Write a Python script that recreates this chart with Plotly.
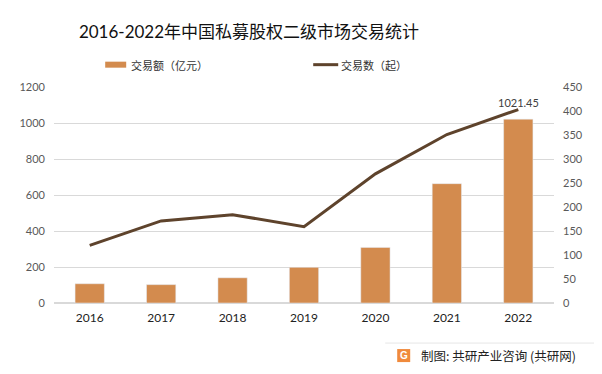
import plotly.graph_objects as go

years = ["2016", "2017", "2018", "2019", "2020", "2021", "2022"]
amount = [107, 102, 140, 198, 309, 663, 1021.45]   # 交易额（亿元）
count = [120, 171, 184, 159, 269, 351, 403]         # 交易数（起）
left_ticks = [0, 200, 400, 600, 800, 1000, 1200]
right_ticks = [0, 50, 100, 150, 200, 250, 300, 350, 400, 450]

BAR = "#D38B4E"
LINE = "#5E432C"
FONT = "Lato, 'Noto Sans CJK SC', sans-serif"
CJK = "'Noto Sans CJK SC', sans-serif"

xpos = list(range(len(years)))

# page body has an 8px default margin; figure is sized so it fits the 602x374 window
W, H = 594, 366
PL, PR, PT, PB = 45.8, 545.8, 79.3, 295.0   # plot area in figure pixels
PW, PH = PR - PL, PB - PT


def px(xr):  # reference page x -> paper
    return (xr - 8 - PL) / PW


def py(yr):  # reference page y -> paper
    return (PB - (yr - 8)) / PH


fig = go.Figure()
fig.add_trace(go.Bar(x=xpos, y=amount, name="交易额（亿元）", marker_color=BAR,
                     width=0.41, showlegend=False, yaxis="y"))
fig.add_trace(go.Scatter(x=xpos, y=count, name="交易数（起）", mode="lines",
                         line=dict(color=LINE, width=3), showlegend=False, yaxis="y2"))

fig.add_annotation(x=xpos[-1], y=amount[-1], xref="x", yref="y", text="1021.45",
                   showarrow=False, yshift=17, font=dict(family=FONT, size=11, color="#404040"))

fig.update_layout(
    width=W, height=H,
    margin=dict(l=PL, r=W - PR, t=PT, b=H - PB),
    paper_bgcolor="white", plot_bgcolor="white",
    title=dict(text="2016-2022年中国私募股权二级市场交易统计", x=241 / W, xanchor="center",
               y=1 - 24 / H, yanchor="middle", font=dict(family=FONT, size=17, color="#111111")),
    xaxis=dict(range=[-0.5, len(years) - 0.5], tickvals=xpos, ticktext=years,
               showgrid=False, showline=False, zeroline=False, ticks="", automargin=False,
               ticklabelstandoff=6,
               tickfont=dict(family=FONT, size=12, color="#222222")),
    yaxis=dict(range=[0, 1200], tickvals=left_ticks, showgrid=True, gridcolor="#D9D9D9",
               gridwidth=1, zeroline=True, zerolinecolor="#D9D9D9", showline=False,
               automargin=False, ticklabelstandoff=8,
               tickfont=dict(family=FONT, size=11, color="#595959")),
    yaxis2=dict(range=[0, 450], tickvals=right_ticks, overlaying="y", side="right",
                showgrid=False, zeroline=False, showline=False, automargin=False,
                ticklabelstandoff=8,
                tickfont=dict(family=FONT, size=11, color="#595959")),
)

# legend (custom)
fig.add_shape(type="rect", xref="paper", yref="paper",
              x0=px(105), x1=px(126), y0=py(68), y1=py(62),
              fillcolor=BAR, line_width=0)
fig.add_annotation(xref="paper", yref="paper", x=px(129), y=py(65),
                   xanchor="left", yanchor="middle", text="交易额（亿元）", showarrow=False,
                   font=dict(family=CJK, size=11, color="#333333"))
fig.add_shape(type="line", xref="paper", yref="paper",
              x0=px(313), x1=px(338), y0=py(65), y1=py(65),
              line=dict(color=LINE, width=3))
fig.add_annotation(xref="paper", yref="paper", x=px(339), y=py(65),
                   xanchor="left", yanchor="middle", text="交易数（起）", showarrow=False,
                   font=dict(family=CJK, size=11, color="#333333"))

# footer
fig.add_shape(type="line", xref="paper", yref="paper",
              x0=px(385), x1=px(598), y0=py(343), y1=py(343),
              line=dict(color="#E6E6E6", width=1))
fig.add_shape(type="rect", xref="paper", yref="paper",
              x0=px(397), x1=px(410), y0=py(362), y1=py(349),
              fillcolor="#F08A3C", line_width=0)
fig.add_annotation(xref="paper", yref="paper", x=px(403.5), y=py(355.5),
                   xanchor="center", yanchor="middle", text="<b>G</b>", showarrow=False,
                   font=dict(family="Liberation Sans", size=10, color="white"))
fig.add_annotation(xref="paper", yref="paper", x=px(419), y=py(355.5),
                   xanchor="left", yanchor="middle", text="制图: 共研产业咨询 (共研网)",
                   showarrow=False, font=dict(family=CJK, size=12.5, color="#222222"))

fig.write_html("out.html")
